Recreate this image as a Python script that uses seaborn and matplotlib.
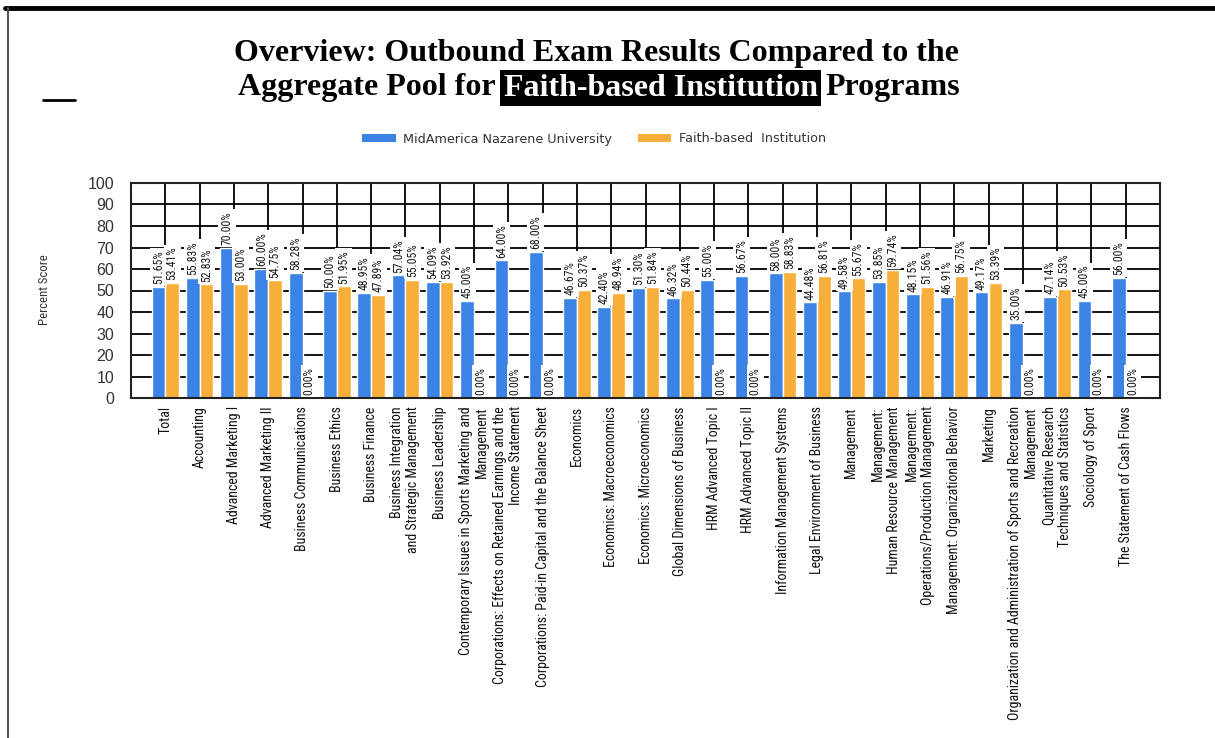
import matplotlib
matplotlib.use("Agg")
import matplotlib.pyplot as plt
import matplotlib.patches as mpatches
from matplotlib import font_manager
from matplotlib.lines import Line2D
import pandas as pd
import seaborn as sns

# ---- data -------------------------------------------------------------
courses = [
    "Total",
    "Accounting",
    "Advanced Marketing I",
    "Advanced Marketing II",
    "Business Communications",
    "Business Ethics",
    "Business Finance",
    "Business Integration\nand Strategic Management",
    "Business Leadership",
    "Contemporary Issues in Sports Marketing and\nManagement",
    "Corporations: Effects on Retained Earnings and the\nIncome Statement",
    "Corporations: Paid-in Capital and the Balance Sheet",
    "Economics",
    "Economics: Macroeconomics",
    "Economics: Microeconomics",
    "Global Dimensions of Business",
    "HRM Advanced Topic I",
    "HRM Advanced Topic II",
    "Information Management Systems",
    "Legal Environment of Business",
    "Management",
    "Management:\nHuman Resource Management",
    "Management:\nOperations/Production Management",
    "Management: Organizational Behavior",
    "Marketing",
    "Organization and Administration of Sports and Recreation\nManagement",
    "Quantitative Research\nTechniques and Statistics",
    "Sociology of Sport",
    "The Statement of Cash Flows",
]
mnu_scores = [51.65, 55.83, 70.00, 60.00, 58.28, 50.00, 48.95, 57.04, 54.09, 45.00,
              64.00, 68.00, 46.67, 42.40, 51.30, 46.32, 55.00, 56.67, 58.00, 44.48,
              49.58, 53.85, 48.15, 46.91, 49.17, 35.00, 47.14, 45.00, 56.00]
faith_scores = [53.41, 52.83, 53.00, 54.75, 0.00, 51.95, 47.89, 55.05, 53.92, 0.00,
                0.00, 0.00, 50.37, 48.94, 51.84, 50.44, 0.00, 0.00, 58.83, 56.81,
                55.67, 59.74, 51.56, 56.75, 53.39, 0.00, 50.53, 0.00, 0.00]
series_names = ["MidAmerica Nazarene University", "Faith-based  Institution"]
y_ticks = [0, 10, 20, 30, 40, 50, 60, 70, 80, 90, 100]

BLUE = "#3B84E6"
ORANGE = "#F8AF3A"
W, H = 1215, 738

SANS = ["Liberation Sans", "DejaVu Sans"]
SERIF = ["Liberation Serif", "DejaVu Serif"]

# the original uses a narrow sans; take one if the machine has it
installed = {f.name for f in font_manager.fontManager.ttflist}
narrow = next((n for n in ["Liberation Sans Narrow", "Arial Narrow", "Roboto Condensed",
                           "Open Sans Condensed", "DejaVu Sans Condensed"]
               if n in installed), None)
if narrow:
    NARROW = [narrow, "DejaVu Sans"]
    tick_size, label_size = 10, 8.5
else:
    NARROW = SANS
    tick_size, label_size = 8.6, 7.2

df = pd.DataFrame({"course": courses, series_names[0]: mnu_scores,
                   series_names[1]: faith_scores})
long_df = df.melt(id_vars="course", var_name="group", value_name="score")

sns.set_theme(style="white")
plt.rcParams["font.family"] = SANS

fig = plt.figure(figsize=(W / 100, H / 100), dpi=100)
ax = fig.add_axes([131 / W, 1 - 398 / H, (1160 - 131) / W, (398 - 183) / H])

sns.barplot(data=long_df, x="course", y="score", hue="group",
            palette=[BLUE, ORANGE], saturation=1, width=0.8,
            errorbar=None, legend=False, ax=ax, zorder=2)

ax.set_xlim(-1, len(courses))
ax.set_ylim(0, 100)
ax.set_yticks(y_ticks)
ax.set_xticks(range(len(courses)))
ax.set_xticklabels(courses, rotation=90, ha="center", va="top",
                   multialignment="right", fontsize=tick_size, family=NARROW,
                   color="#111111")
ax.set_yticklabels([str(v) for v in y_ticks], fontsize=11.5, color="#333333")
ax.set_xlabel("")
ax.set_ylabel("")

ax.grid(True, color="black", linewidth=1.3, zorder=0)
ax.set_axisbelow(True)
ax.tick_params(axis="y", direction="out", length=10, width=1.3, color="black", pad=2)
ax.tick_params(axis="x", direction="out", length=4, width=1.3, color="black", pad=2)
for spine in ax.spines.values():
    spine.set_visible(True)
    spine.set_color("#222222")
    spine.set_linewidth(1.5)

for container, vals in zip(ax.containers, [mnu_scores, faith_scores]):
    ax.bar_label(container, labels=[f"{v:.2f}%" for v in vals], rotation=90,
                 padding=2, fontsize=label_size, family=NARROW, color="#1a1a1a",
                 bbox=dict(facecolor="white", edgecolor="none", pad=1.5), zorder=4)

fig.text(44 / W, 1 - 290 / H, "Percent Score", rotation=90, ha="center",
         va="center", fontsize=9.2, color="#333333", family=NARROW)

# legend
handles = [mpatches.Patch(facecolor=BLUE, edgecolor="none"),
           mpatches.Patch(facecolor=ORANGE, edgecolor="none")]
fig.legend(handles, series_names, loc="center", bbox_to_anchor=(594 / W, 1 - 139 / H),
           ncol=2, frameon=False, handlelength=2.6, handleheight=0.55,
           columnspacing=2.0, handletextpad=0.6,
           prop={"family": ["DejaVu Sans"], "size": 9.2}, labelcolor="#333333")

# title, second line has a highlighted phrase
title_size = 23
fig.text(596 / W, 1 - 54 / H, "Overview: Outbound Exam Results Compared to the",
         ha="center", va="center", fontsize=title_size, fontweight="bold",
         family=SERIF, color="black")

renderer = fig.canvas.get_renderer()
parts = [("Aggregate Pool for", "black", None),
         ("Faith-based Institution", "white", "black"),
         ("Programs", "black", None)]
y2 = 1 - 88 / H
items = []
for s, col, bg in parts:
    kw = dict(ha="left", va="center", fontsize=title_size, fontweight="bold",
              family=SERIF, color=col)
    if bg:
        kw["bbox"] = dict(facecolor=bg, edgecolor="none", pad=2.5)
    items.append(fig.text(0, y2, s, **kw))
space_t = fig.text(0, 0, "a a", fontsize=title_size, fontweight="bold", family=SERIF)
aa_t = fig.text(0, 0, "aa", fontsize=title_size, fontweight="bold", family=SERIF)
space_w = (space_t.get_window_extent(renderer).width
           - aa_t.get_window_extent(renderer).width)
space_t.remove()
aa_t.remove()
widths = [t.get_window_extent(renderer).width for t in items]
total = sum(widths) + space_w * (len(items) - 1)
x = 599 - total / 2
for t, w in zip(items, widths):
    t.set_x(x / W)
    x += w + space_w

# page frame and small dash
fig.add_artist(Line2D([5 / W, 1], [1 - 8 / H, 1 - 8 / H], color="black",
                      linewidth=3.5, transform=fig.transFigure))
fig.add_artist(Line2D([8 / W, 8 / W], [0, 1 - 8 / H], color="#555555",
                      linewidth=1.5, transform=fig.transFigure))
fig.add_artist(Line2D([43 / W, 75 / W], [1 - 100 / H, 1 - 100 / H], color="black",
                      linewidth=2, transform=fig.transFigure))

fig.savefig("out.png", dpi=100)
